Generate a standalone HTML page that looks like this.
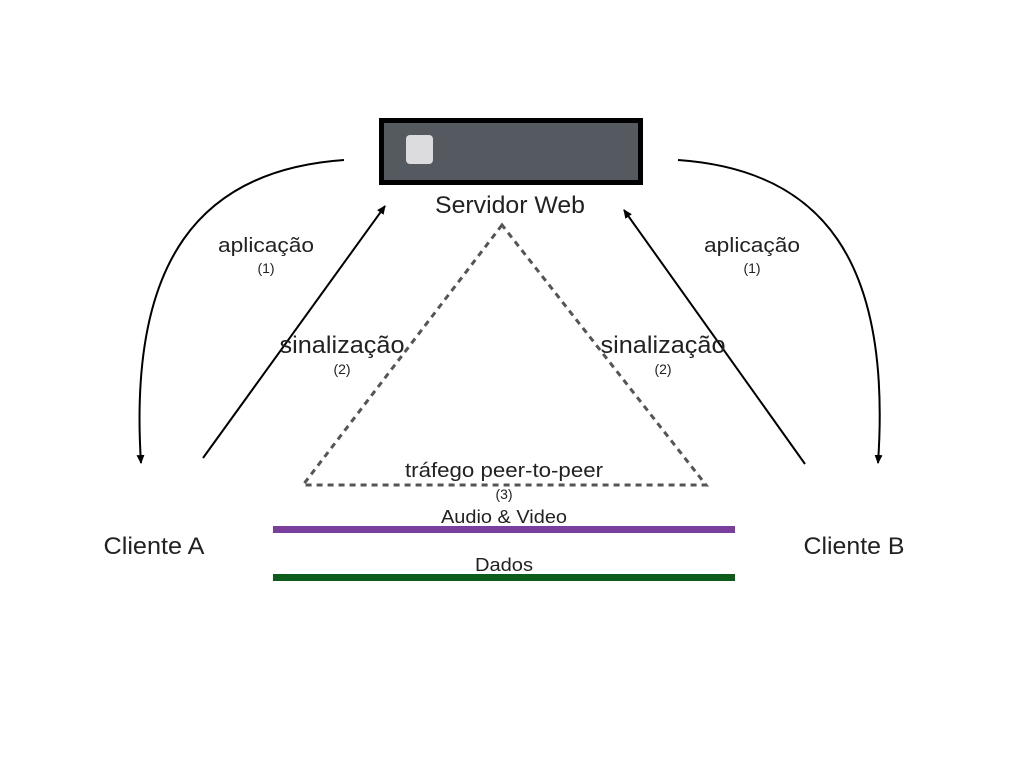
<!DOCTYPE html>
<html><head><meta charset="utf-8"><style>html,body{margin:0;padding:0;background:#fff;}svg{display:block}</style></head>
<body>
<svg width="1024" height="768" viewBox="0 0 1024 768" xmlns="http://www.w3.org/2000/svg" font-family="Liberation Sans, sans-serif" fill="#222">
<defs>
<marker id="ah" markerWidth="10" markerHeight="10" refX="8" refY="5" orient="auto" markerUnits="userSpaceOnUse">
<path d="M0,1 L9,5 L0,9 z" fill="#000"/>
</marker>
</defs>
<rect x="381.5" y="120.5" width="259" height="62" fill="#555a61" stroke="#000" stroke-width="5"/>
<rect x="406" y="135" width="27" height="29" rx="4" fill="#dcdcde"/>
<path d="M344,160 C200,170 128,260 141,463" fill="none" stroke="#000" stroke-width="2" marker-end="url(#ah)"/>
<path d="M678,160 C822,170 892,260 878,463" fill="none" stroke="#000" stroke-width="2" marker-end="url(#ah)"/>
<line x1="203" y1="458" x2="385" y2="206" stroke="#000" stroke-width="2" marker-end="url(#ah)"/>
<line x1="805" y1="464" x2="624" y2="210" stroke="#000" stroke-width="2" marker-end="url(#ah)"/>
<path d="M502,225 L303,485 L706,485 Z" fill="none" stroke="#555" stroke-width="3" stroke-dasharray="6,5"/>
<rect x="273" y="526" width="462" height="7" fill="#7a3f9d"/>
<rect x="273" y="574" width="462" height="7" fill="#0e5c1b"/>
<g text-anchor="middle">
<text x="510" y="213" font-size="24" textLength="150" lengthAdjust="spacingAndGlyphs">Servidor Web</text>
<text x="266" y="252" font-size="20" textLength="96" lengthAdjust="spacingAndGlyphs">aplicação</text>
<text x="266" y="273" font-size="14">(1)</text>
<text x="752" y="252" font-size="20" textLength="96" lengthAdjust="spacingAndGlyphs">aplicação</text>
<text x="752" y="273" font-size="14">(1)</text>
<text x="342" y="353" font-size="24" textLength="125" lengthAdjust="spacingAndGlyphs">sinalização</text>
<text x="342" y="374" font-size="14">(2)</text>
<text x="663" y="353" font-size="24" textLength="125" lengthAdjust="spacingAndGlyphs">sinalização</text>
<text x="663" y="374" font-size="14">(2)</text>
<text x="504" y="477" font-size="20" textLength="198" lengthAdjust="spacingAndGlyphs">tráfego peer-to-peer</text>
<text x="504" y="499" font-size="14">(3)</text>
<text x="504" y="523" font-size="18" textLength="126" lengthAdjust="spacingAndGlyphs">Audio &amp; Video</text>
<text x="504" y="571" font-size="18" textLength="58" lengthAdjust="spacingAndGlyphs">Dados</text>
<text x="154" y="554" font-size="24" textLength="101" lengthAdjust="spacingAndGlyphs">Cliente A</text>
<text x="854" y="554" font-size="24" textLength="101" lengthAdjust="spacingAndGlyphs">Cliente B</text>
</g>
</svg>
</body></html>
